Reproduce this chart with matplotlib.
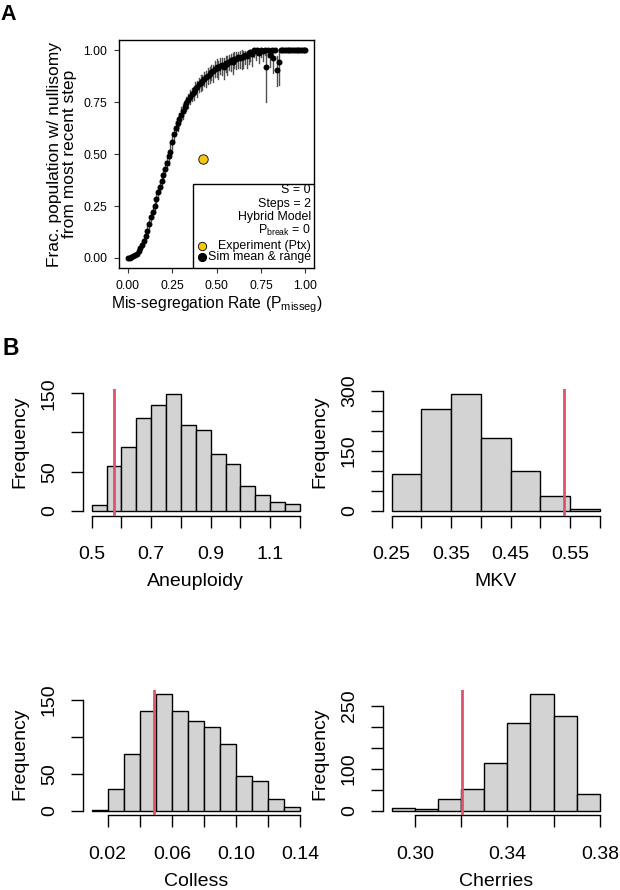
import matplotlib
matplotlib.use("Agg")
import matplotlib.pyplot as plt
from matplotlib.patches import Rectangle

plt.rcParams['font.family'] = ['Liberation Sans', 'DejaVu Sans']
plt.rcParams['mathtext.default'] = 'regular'

# ---------------- Panel A data ----------------
sim_x = [0.00, 0.01, 0.02, 0.03, 0.04, 0.05, 0.06, 0.07, 0.08, 0.09,
         0.10, 0.11, 0.12, 0.13, 0.14, 0.15, 0.16, 0.17, 0.18, 0.19,
         0.20, 0.21, 0.22, 0.23, 0.24, 0.25, 0.26, 0.27, 0.28, 0.29,
         0.30, 0.31, 0.32, 0.33, 0.34, 0.35, 0.36, 0.37, 0.38, 0.39,
         0.40, 0.41, 0.42, 0.43, 0.44, 0.45, 0.46, 0.47, 0.48, 0.49,
         0.50, 0.51, 0.52, 0.53, 0.54, 0.55, 0.56, 0.57, 0.58, 0.59,
         0.60, 0.61, 0.62, 0.63, 0.64, 0.65, 0.66, 0.67, 0.68, 0.69,
         0.70, 0.71, 0.72, 0.73, 0.74, 0.75, 0.76, 0.77, 0.78, 0.79,
         0.80, 0.81, 0.82, 0.83, 0.84, 0.85, 0.86, 0.87, 0.88, 0.89,
         0.90, 0.91, 0.92, 0.93, 0.94, 0.95, 0.96, 0.97, 0.98, 0.99, 1.00]
sim_mean = [0.000, 0.001, 0.003, 0.007, 0.013, 0.021, 0.033, 0.048, 0.063, 0.082,
            0.107, 0.132, 0.165, 0.196, 0.220, 0.250, 0.285, 0.318, 0.340, 0.372,
            0.400, 0.430, 0.458, 0.490, 0.512, 0.560, 0.595, 0.625, 0.648, 0.667,
            0.690, 0.710, 0.728, 0.745, 0.760, 0.773, 0.790, 0.800, 0.815, 0.822,
            0.836, 0.845, 0.852, 0.862, 0.872, 0.876, 0.888, 0.894, 0.900, 0.912,
            0.918, 0.915, 0.925, 0.930, 0.922, 0.940, 0.935, 0.945, 0.953, 0.945,
            0.960, 0.958, 0.969, 0.962, 0.970, 0.966, 0.978, 0.972, 0.985, 0.990,
            0.983, 1.000, 0.995, 1.000, 0.988, 1.000, 0.995, 1.000, 0.920, 1.000,
            0.978, 1.000, 0.962, 1.000, 0.905, 0.945, 1.000, 1.000, 1.000, 1.000,
            1.000, 1.000, 1.000, 1.000, 1.000, 1.000, 1.000, 1.000, 1.000, 1.000, 1.000]
sim_down = [0.000, 0.001, 0.002, 0.003, 0.004, 0.005, 0.006, 0.008, 0.010, 0.012,
            0.015, 0.020, 0.025, 0.018, 0.030, 0.020, 0.025, 0.030, 0.022, 0.030,
            0.035, 0.025, 0.030, 0.040, 0.030, 0.035, 0.030, 0.025, 0.035, 0.030,
            0.030, 0.040, 0.030, 0.035, 0.040, 0.030, 0.035, 0.040, 0.030, 0.045,
            0.035, 0.040, 0.045, 0.035, 0.050, 0.040, 0.045, 0.035, 0.050, 0.040,
            0.045, 0.055, 0.040, 0.050, 0.060, 0.045, 0.055, 0.040, 0.050, 0.060,
            0.045, 0.050, 0.055, 0.045, 0.060, 0.050, 0.045, 0.055, 0.050, 0.040,
            0.060, 0.030, 0.040, 0.020, 0.050, 0.030, 0.045, 0.020, 0.170, 0.030,
            0.060, 0.020, 0.070, 0.010, 0.075, 0.110, 0.000, 0.000, 0.000, 0.000,
            0.000, 0.000, 0.000, 0.000, 0.000, 0.000, 0.000, 0.000, 0.000, 0.000, 0.000]
sim_up = [0.000, 0.001, 0.002, 0.003, 0.004, 0.005, 0.006, 0.008, 0.010, 0.012,
          0.015, 0.020, 0.020, 0.025, 0.020, 0.030, 0.025, 0.020, 0.030, 0.025,
          0.030, 0.035, 0.025, 0.030, 0.040, 0.030, 0.025, 0.035, 0.030, 0.030,
          0.035, 0.030, 0.035, 0.030, 0.030, 0.035, 0.030, 0.030, 0.035, 0.030,
          0.030, 0.035, 0.030, 0.035, 0.030, 0.040, 0.030, 0.035, 0.030, 0.035,
          0.040, 0.035, 0.040, 0.035, 0.040, 0.035, 0.040, 0.035, 0.030, 0.040,
          0.030, 0.035, 0.025, 0.035, 0.030, 0.030, 0.020, 0.025, 0.015, 0.010,
          0.017, 0.000, 0.005, 0.000, 0.012, 0.000, 0.005, 0.000, 0.080, 0.000,
          0.022, 0.000, 0.038, 0.000, 0.070, 0.050, 0.000, 0.000, 0.000, 0.000,
          0.000, 0.000, 0.000, 0.000, 0.000, 0.000, 0.000, 0.000, 0.000, 0.000, 0.000]
exp_x = [0.425]
exp_y = [0.475]
legend_lines = ["S = 0", "Steps = 2", "Hybrid Model", r"P$_{break}$ = 0"]

# ---------------- Panel B data ----------------
aneu_edges = [0.50, 0.55, 0.60, 0.65, 0.70, 0.75, 0.80, 0.85, 0.90, 0.95, 1.00, 1.05, 1.10, 1.15, 1.20]
aneu_counts = [8, 57, 81, 118, 135, 149, 109, 103, 72, 60, 32, 20, 12, 9]
aneu_obs = 0.574

mkv_edges = [0.25, 0.30, 0.35, 0.40, 0.45, 0.50, 0.55, 0.60]
mkv_counts = [93, 256, 293, 182, 100, 37, 6]
mkv_obs = 0.540

colless_edges = [0.01, 0.02, 0.03, 0.04, 0.05, 0.06, 0.07, 0.08, 0.09, 0.10, 0.11, 0.12, 0.13, 0.14]
colless_counts = [1, 29, 76, 134, 157, 135, 121, 113, 90, 47, 40, 16, 5]
colless_obs = 0.049

cher_edges = [0.29, 0.30, 0.31, 0.32, 0.33, 0.34, 0.35, 0.36, 0.37, 0.38]
cher_counts = [7, 5, 29, 53, 115, 209, 278, 226, 41]
cher_obs = 0.3204

aneu_xt = [0.5, 0.6, 0.7, 0.8, 0.9, 1.0, 1.1, 1.2]
aneu_xl = ["0.5", "", "0.7", "", "0.9", "", "1.1", ""]
aneu_yt = [0, 50, 100, 150]
aneu_yl = ["0", "50", "", "150"]
mkv_xt = [0.25, 0.30, 0.35, 0.40, 0.45, 0.50, 0.55, 0.60]
mkv_xl = ["0.25", "", "0.35", "", "0.45", "", "0.55", ""]
mkv_yt = [0, 50, 100, 150, 200, 250, 300]
mkv_yl = ["0", "", "", "150", "", "", "300"]
colless_xt = [0.02, 0.04, 0.06, 0.08, 0.10, 0.12, 0.14]
colless_xl = ["0.02", "", "0.06", "", "0.10", "", "0.14"]
colless_yt = [0, 50, 100, 150]
colless_yl = ["0", "50", "", "150"]
cher_xt = [0.30, 0.32, 0.34, 0.36, 0.38]
cher_xl = ["0.30", "", "0.34", "", "0.38"]
cher_yt = [0, 50, 100, 150, 200, 250]
cher_yl = ["0", "", "100", "", "", "250"]

W, H = 620, 890
fig = plt.figure(figsize=(W / 100, H / 100), dpi=100)


def px_axes(l, t, r, b):
    return fig.add_axes([l / W, 1 - b / H, (r - l) / W, (b - t) / H])


# ---------------- Panel A ----------------
axA = px_axes(119, 40, 314.3, 268.3)
for xv, yv, d, u in zip(sim_x, sim_mean, sim_down, sim_up):
    axA.plot([xv, xv], [yv - d, yv + u], color='#505050', lw=1.0, zorder=2)
axA.plot(sim_x, sim_mean, 'o', color='black', ms=4.3, mew=0, zorder=3)
axA.plot(exp_x, exp_y, 'o', mfc='#F5C710', mec='black', mew=0.6, ms=6.8, zorder=4)
axA.set_xlim(-0.05, 1.05)
axA.set_ylim(-0.05, 1.05)
ticksA = [0.00, 0.25, 0.50, 0.75, 1.00]
axA.set_xticks(ticksA)
axA.set_xticklabels(["0.00", "0.25", "0.50", "0.75", "1.00"])
axA.set_yticks(ticksA)
axA.set_yticklabels(["0.00", "0.25", "0.50", "0.75", "1.00"])
axA.tick_params(length=3.5, width=0.8, labelsize=8.8, color='#333333')
axA.tick_params(axis='x', pad=5.0)
axA.tick_params(axis='y', pad=5.0)
for s in axA.spines.values():
    s.set_linewidth(1.0)
axA.set_xlabel(r"Mis-segregation Rate (P$_{misseg}$)", fontsize=11.3)
axA.xaxis.set_label_coords(0.5, -0.16)
axA.xaxis.label.set_va('center')
axA.set_ylabel("Frac. population w/ nullisomy\nfrom most recent step", fontsize=12.5,
               linespacing=1.0)
axA.yaxis.set_label_coords(-0.292, 0.5)
axA.yaxis.label.set_va('center')

# legend box
axA.add_patch(Rectangle((0.3805, 0.0), 0.6195, 0.368, transform=axA.transAxes,
                        facecolor='white', edgecolor='black', lw=1.0, zorder=5))
leg_y = [0.343, 0.280, 0.226, 0.166]
for txt, yy in zip(legend_lines, leg_y):
    axA.text(0.983, yy, txt, transform=axA.transAxes, ha='right', va='center',
             fontsize=8.9, zorder=6)
axA.text(0.983, 0.099, "Experiment (Ptx)", transform=axA.transAxes, ha='right',
         va='center', fontsize=8.9, zorder=6)
axA.text(0.983, 0.048, "Sim mean & range", transform=axA.transAxes, ha='right',
         va='center', fontsize=8.9, zorder=6)
axA.plot([0.4265], [0.099], 'o', transform=axA.transAxes, mfc='#F5C710', mec='black',
         mew=0.6, ms=6.0, zorder=6, clip_on=False)
axA.plot([0.4235], [0.048], 'o', transform=axA.transAxes, color='black',
         ms=5.6, zorder=6, clip_on=False)

fig.text(0.0, 1 - 20 / H, "A", fontsize=15.5, fontweight='bold', ha='left', va='baseline')
fig.text(0.004, 1 - 355 / H, "B", fontsize=16.5, fontweight='bold', ha='left', va='baseline')


# ---------------- Panel B ----------------
def hist_panel(rect, edges, counts, obs, xt, xl, yt, yl, xlabel, ylab_y):
    ax = px_axes(*rect)
    lefts = edges[:-1]
    widths = [b - a for a, b in zip(edges[:-1], edges[1:])]
    ax.bar(lefts, counts, width=widths, align='edge', color='#D3D3D3',
           edgecolor='black', linewidth=1.0, zorder=2)
    span = edges[-1] - edges[0]
    ax.set_xlim(edges[0] - 0.04 * span, edges[-1] + 0.04 * span)
    ymax = max(counts)
    ax.set_ylim(-0.04 * ymax, 1.04 * ymax)
    ax.axvline(obs, color='#DF536B', lw=2.0, zorder=3)
    for side in ('top', 'right'):
        ax.spines[side].set_visible(False)
    ax.spines['left'].set_bounds(yt[0], yt[-1])
    ax.spines['bottom'].set_bounds(xt[0], xt[-1])
    for side in ('left', 'bottom'):
        ax.spines[side].set_linewidth(1.0)
    ax.set_xticks(xt)
    ax.set_xticklabels(xl)
    ax.set_yticks(yt)
    ax.set_yticklabels(yl, rotation=90, rotation_mode='anchor', ha='center', va='baseline')
    ax.tick_params(length=8.3, width=1.0, labelsize=14)
    ax.tick_params(axis='x', pad=13.5)
    ax.tick_params(axis='y', pad=12.9)
    for lab in ax.get_yticklabels():
        lab.set_rotation_mode('anchor')
        lab.set_ha('center')
        lab.set_va('baseline')
    ax.set_xlabel(xlabel, fontsize=14)
    ax.xaxis.set_label_coords(0.5, -0.522)
    ax.xaxis.label.set_va('center')
    ax.set_ylabel("Frequency", fontsize=14)
    ax.yaxis.set_label_coords(-0.282, ylab_y)
    ax.yaxis.label.set_va('center')
    return ax


hist_panel((83.4, 389.3, 308.3, 515.7), aneu_edges, aneu_counts, aneu_obs,
           aneu_xt, aneu_xl, aneu_yt, aneu_yl, "Aneuploidy", 0.583)
hist_panel((383.3, 389.3, 608.2, 515.7), mkv_edges, mkv_counts, mkv_obs,
           mkv_xt, mkv_xl, mkv_yt, mkv_yl, "MKV", 0.583)
hist_panel((83.4, 689.7, 308.3, 815.4), colless_edges, colless_counts, colless_obs,
           colless_xt, colless_xl, colless_yt, colless_yl, "Colless", 0.494)
hist_panel((383.3, 689.7, 608.2, 815.4), cher_edges, cher_counts, cher_obs,
           cher_xt, cher_xl, cher_yt, cher_yl, "Cherries", 0.494)

fig.savefig("out.png", dpi=100)
